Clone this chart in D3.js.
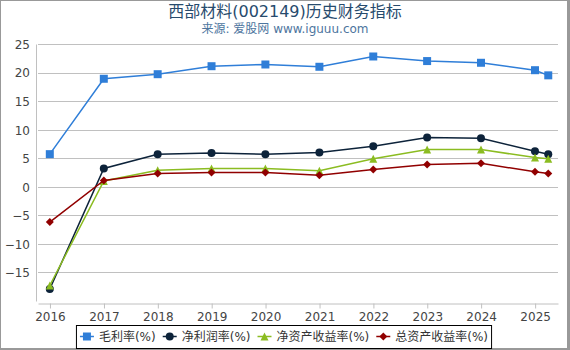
<!DOCTYPE html>
<html>
<head>
<meta charset="utf-8">
<script src="https://cdn.jsdelivr.net/npm/d3@7"></script>
<style>
    body { margin: 0; background: #fff; }
    #chart { width: 570px; height: 350px; }
    text { font-family: "DejaVu Sans", "Noto Sans CJK SC", sans-serif; }
</style>
</head>
<body>
<div id="chart"></div>
<script>
// report dates (year end, plus latest quarter)
const reportDates = ["2015-12-31", "2016-12-31", "2017-12-31", "2018-12-31", "2019-12-31",
    "2020-12-31", "2021-12-31", "2022-12-31", "2023-12-31", "2024-12-31", "2025-03-31"];
const yearTicks = [2016, 2017, 2018, 2019, 2020, 2021, 2022, 2023, 2024, 2025];
const yTicks = [-15, -10, -5, 0, 5, 10, 15, 20, 25];

// series values (%)
const grossMargin = [5.8, 19.0, 19.8, 21.2, 21.5, 21.1, 22.9, 22.1, 21.8, 20.5, 19.6];
const netMargin = [-17.8, 3.3, 5.8, 6.0, 5.8, 6.1, 7.2, 8.7, 8.6, 6.3, 5.8];
const roe = [-17.2, 1.1, 3.0, 3.3, 3.3, 2.9, 5.0, 6.6, 6.6, 5.2, 5.0];
const roa = [-6.1, 1.2, 2.4, 2.6, 2.6, 2.1, 3.1, 4.0, 4.2, 2.7, 2.4];

const seriesNames = ["毛利率(%)", "净利润率(%)", "净资产收益率(%)", "总资产收益率(%)"];
const seriesColors = ["#2f7ed8", "#0d233a", "#8bbc21", "#910000"];
const seriesSymbols = ["square", "circle", "triangle", "diamond"];

class LineChart {

    constructor(parentElement) {
        this.parentElement = parentElement;
        this.title = "西部材料(002149)历史财务指标";
        this.subtitle = "来源: 爱股网 www.iguuu.com";
        this.initVis();
    }

    initVis() {
        let vis = this;

        vis.width = 570;
        vis.height = 350;
        vis.plot = {left: 38, right: 558, top: 44.5, bottom: 301.5};

        vis.svg = d3.select("#" + vis.parentElement).append("svg")
            .attr("width", vis.width)
            .attr("height", vis.height);

        // grey frame
        vis.svg.append("rect")
            .attr("width", vis.width).attr("height", vis.height)
            .attr("fill", "#999");
        vis.svg.append("rect")
            .attr("x", 1).attr("y", 1)
            .attr("width", 566).attr("height", 347)
            .attr("fill", "#fff");

        // titles
        vis.svg.append("text")
            .attr("x", 285).attr("y", 16.5)
            .attr("text-anchor", "middle")
            .attr("fill", "#274b6d")
            .style("font-size", "16px")
            .text(vis.title);
        vis.svg.append("text")
            .attr("x", 285).attr("y", 32.5)
            .attr("text-anchor", "middle")
            .attr("fill", "#4d759e")
            .style("font-size", "12px")
            .text(vis.subtitle);

        vis.x = d3.scaleTime()
            .domain([new Date(2015, 9, 12), new Date(2025, 5, 5)])
            .range([vis.plot.left, vis.plot.right]);

        vis.y = d3.scaleLinear()
            .domain([-20, 25])
            .range([vis.plot.bottom, vis.plot.top]);

        // gridlines
        vis.svg.append("g").attr("class", "grid")
            .selectAll("line")
            .data(yTicks)
            .enter().append("line")
            .attr("x1", vis.plot.left).attr("x2", vis.plot.right)
            .attr("y1", d => Math.floor(vis.y(d)) + 0.5)
            .attr("y2", d => Math.floor(vis.y(d)) + 0.5)
            .attr("stroke", "#c0c0c0");

        // y axis line + labels
        vis.svg.append("line")
            .attr("x1", 36.5).attr("x2", 36.5)
            .attr("y1", vis.plot.top).attr("y2", vis.plot.bottom)
            .attr("stroke", "#c0c0c0");

        vis.yAxis = d3.axisLeft(vis.y).tickValues(yTicks).tickSize(0).tickPadding(0);
        vis.svg.append("g")
            .attr("transform", "translate(30,0)")
            .call(vis.yAxis)
            .call(g => g.select(".domain").remove())
            .call(g => g.selectAll("text")
                .attr("fill", "#444")
                .style("font-size", "12px")
                .style("font-family", null));

        // x axis
        vis.xAxis = d3.axisBottom(vis.x)
            .tickValues(yearTicks.map(yr => new Date(yr, 0, 1)))
            .tickFormat(d3.timeFormat("%Y"))
            .tickSize(5).tickSizeOuter(0).tickPadding(4);
        vis.svg.append("g")
            .attr("transform", "translate(0,303.5)")
            .call(vis.xAxis)
            .call(g => g.select(".domain").attr("stroke", "#c0c0c0"))
            .call(g => g.selectAll(".tick line").attr("stroke", "#c0c0c0"))
            .call(g => g.selectAll("text")
                .attr("fill", "#444")
                .style("font-size", "12px")
                .style("font-family", null));

        vis.line = d3.line()
            .x(d => vis.x(d.date))
            .y(d => vis.y(d.value));

        vis.seriesGroup = vis.svg.append("g").attr("class", "series");
        vis.legendGroup = vis.svg.append("g").attr("class", "legend");

        this.wrangleData();
    }

    wrangleData() {
        let vis = this;
        let parse = d3.timeParse("%Y-%m-%d");
        let values = [grossMargin, netMargin, roe, roa];

        vis.displayData = seriesNames.map((name, i) => ({
            name: name,
            color: seriesColors[i],
            symbol: seriesSymbols[i],
            points: values[i].map((v, j) => ({date: parse(reportDates[j]), value: v}))
        }));

        vis.updateVis();
    }

    markerPath(symbol) {
        // 8px markers, centred on the point
        if (symbol === "square") return "M-4,-4H4V4H-4Z";
        if (symbol === "triangle") return "M0,-4L4,4H-4Z";
        if (symbol === "diamond") return "M0,-4L4,0L0,4L-4,0Z";
        return d3.symbol(d3.symbolCircle, Math.PI * 16)();
    }

    updateVis() {
        let vis = this;

        let series = vis.seriesGroup.selectAll(".line-series")
            .data(vis.displayData)
            .enter().append("g")
            .attr("class", "line-series");

        series.append("path")
            .attr("d", d => vis.line(d.points))
            .attr("fill", "none")
            .attr("stroke", d => d.color)
            .attr("stroke-width", 1.5);

        series.each(function(s) {
            d3.select(this).selectAll(".marker")
                .data(s.points)
                .enter().append("path")
                .attr("class", "marker")
                .attr("transform", d => `translate(${vis.x(d.date)},${vis.y(d.value)})`)
                .attr("d", vis.markerPath(s.symbol))
                .attr("fill", s.color);
        });

        // legend
        let xPos = 0;
        let items = vis.legendGroup.selectAll(".legend-item")
            .data(vis.displayData)
            .enter().append("g")
            .attr("class", "legend-item");

        items.each(function(s) {
            let g = d3.select(this);
            g.append("line")
                .attr("x1", 0).attr("x2", 14)
                .attr("stroke", s.color).attr("stroke-width", 1.5);
            g.append("path")
                .attr("transform", "translate(7,0)")
                .attr("d", vis.markerPath(s.symbol))
                .attr("fill", s.color);
            let t = g.append("text")
                .attr("x", 19).attr("dy", "0.35em")
                .attr("fill", "#333")
                .style("font-size", "12px")
                .text(s.name);
            g.attr("transform", `translate(${xPos},0)`);
            xPos += 19 + t.node().getComputedTextLength() + 7;
        });

        let totalWidth = xPos - 7;
        let startX = 284 - totalWidth / 2;
        vis.legendGroup.attr("transform", `translate(${startX},336.5)`);
        vis.legendGroup.insert("rect", ":first-child")
            .attr("x", -3.5).attr("y", -11)
            .attr("width", totalWidth + 7).attr("height", 23)
            .attr("fill", "#fff")
            .attr("stroke", "#000");
    }
}

new LineChart("chart");
</script>
</body>
</html>
